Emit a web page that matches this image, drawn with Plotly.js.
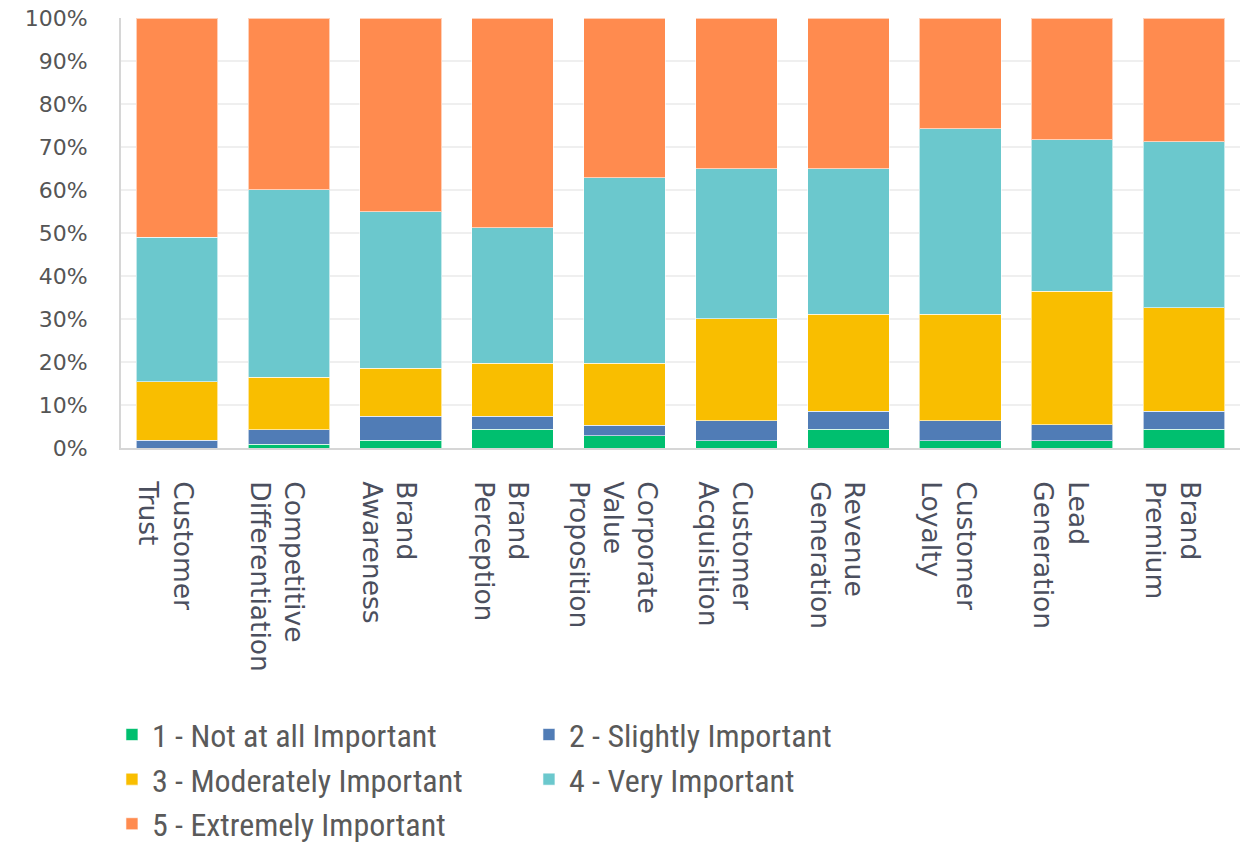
<!DOCTYPE html>
<html>
<head>
<meta charset="utf-8">
<script src="https://cdn.plot.ly/plotly-3.0.1.min.js"></script>
<style>
  html, body { margin: 0; padding: 0; background: #ffffff; }
  #chart { width: 1251px; height: 847px; }
</style>
</head>
<body>
<div id="chart"></div>
<script>
// Categories (x-axis tick labels, multi-line)
const categories = [
  "Customer<br>Trust",
  "Competitive<br>Differentiation",
  "Brand<br>Awareness",
  "Brand<br>Perception",
  "Corporate<br>Value<br>Proposition",
  "Customer<br>Acquisition",
  "Revenue<br>Generation",
  "Customer<br>Loyalty",
  "Lead<br>Generation",
  "Brand<br>Premium"
];

// Series names
const seriesNames = [
  "1 - Not at all Important",
  "2 - Slightly Important",
  "3 - Moderately Important",
  "4 - Very Important",
  "5 - Extremely Important"
];

// Series values (percent of respondents)
const notAtAll   = [0.0, 0.9, 1.8, 4.4, 2.9, 1.7, 4.4, 1.7, 1.7, 4.4];
const slightly   = [1.8, 3.3, 5.6, 3.0, 2.4, 4.6, 4.1, 4.6, 3.7, 4.1];
const moderately = [13.6, 12.2, 11.2, 12.3, 14.4, 23.8, 22.6, 24.8, 31.1, 24.1];
const very       = [33.6, 43.7, 36.3, 31.5, 43.1, 34.8, 33.8, 43.2, 35.2, 38.6];
const extremely  = [51.0, 39.9, 45.1, 48.8, 37.2, 35.1, 35.1, 25.7, 28.3, 28.8];

// Colours
const colors = ["#00BF6F", "#507CB6", "#F9BE00", "#6BC8CD", "#FF8B4F"];

const seriesValues = [notAtAll, slightly, moderately, very, extremely];

const traces = seriesValues.map((vals, i) => ({
  type: "bar",
  name: seriesNames[i],
  x: categories,
  y: vals,
  marker: {
    color: colors[i],
    line: { color: "rgba(255,255,255,0.6)", width: 1 }
  },
  hovertemplate: "%{y}%<extra>" + seriesNames[i] + "</extra>"
}));

const layout = {
  width: 1251,
  height: 847,
  barmode: "stack",
  bargap: 0.27,
  paper_bgcolor: "#ffffff",
  plot_bgcolor: "#ffffff",
  margin: { l: 121, r: 11, t: 18, b: 399, pad: 0 },
  font: { family: "DejaVu Sans, sans-serif", color: "#555555" },
  xaxis: {
    type: "category",
    tickangle: 90,
    tickfont: { family: "DejaVu Sans, sans-serif", size: 26.5, color: "#4b4f5e" },
    showline: true,
    linecolor: "#d6d6d6",
    linewidth: 2,
    ticks: "",
    ticklabelstandoff: 26,
    ticklabelshift: -12,
    showgrid: false,
    automargin: false,
    fixedrange: true
  },
  yaxis: {
    range: [0, 100],
    dtick: 10,
    tick0: 0,
    ticksuffix: "%",
    tickfont: { family: "DejaVu Sans, sans-serif", size: 22, color: "#555555" },
    showgrid: true,
    gridcolor: "#efefef",
    gridwidth: 2,
    showline: true,
    linecolor: "#d6d6d6",
    linewidth: 2,
    zeroline: false,
    ticks: "",
    ticklabelstandoff: 27,
    automargin: false,
    fixedrange: true
  },
  showlegend: true,
  legend: {
    orientation: "h",
    xref: "container",
    yref: "container",
    x: 0.0895,
    xanchor: "left",
    y: 0.165,
    yanchor: "top",
    traceorder: "normal",
    font: { family: "Liberation Sans Narrow, Roboto Condensed, Roboto, sans-serif", size: 32, color: "#5a5a5a" },
    entrywidth: 372,
    entrywidthmode: "pixels",
    itemclick: false,
    itemdoubleclick: false,
    bgcolor: "rgba(0,0,0,0)"
  }
};

Plotly.newPlot("chart", traces, layout, { displayModeBar: false, staticPlot: true });
</script>
</body>
</html>
